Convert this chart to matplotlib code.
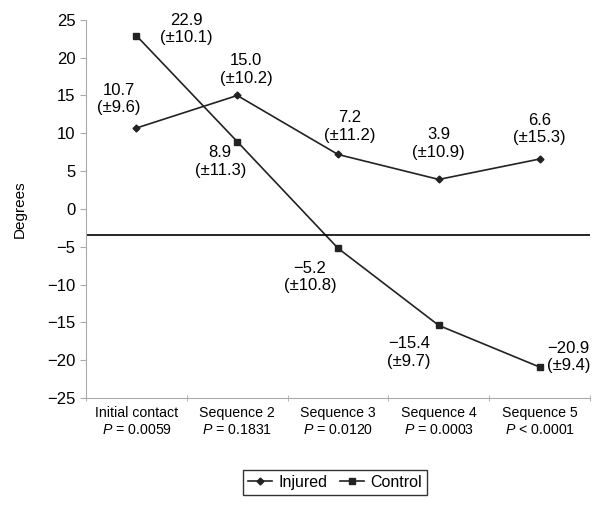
import matplotlib
matplotlib.use("Agg")
import matplotlib.pyplot as plt
import numpy as np

categories = ["Initial contact", "Sequence 2", "Sequence 3", "Sequence 4", "Sequence 5"]
p_values = ["$P$ = 0.0059", "$P$ = 0.1831", "$P$ = 0.0120", "$P$ = 0.0003", "$P$ < 0.0001"]
injured = [10.7, 15.0, 7.2, 3.9, 6.6]
injured_sd = [9.6, 10.2, 11.2, 10.9, 15.3]
control = [22.9, 8.9, -5.2, -15.4, -20.9]
control_sd = [10.1, 11.3, 10.8, 9.7, 9.4]
ref_line = -3.5
yticks = list(range(-25, 30, 5))

plt.rcParams['font.family'] = ['Liberation Sans', 'DejaVu Sans']
plt.rcParams['mathtext.fontset'] = 'custom'
plt.rcParams['mathtext.it'] = 'Liberation Sans:italic'
plt.rcParams['mathtext.rm'] = 'Liberation Sans'

fig = plt.figure(figsize=(6.02, 5.09), dpi=100)
ax = fig.add_axes([0.143, 0.218, 0.837, 0.743])

x = np.arange(len(categories))
ax.plot(x, injured, color='#222222', lw=1.2, marker='D', ms=3.5, label='Injured')
ax.plot(x, control, color='#222222', lw=1.2, marker='s', ms=4.5, label='Control')
ax.axhline(ref_line, color='black', lw=1.2)

ax.set_xlim(-0.5, len(categories) - 0.5)
ax.set_ylim(-25, 25)
ax.set_yticks(yticks)
ax.set_yticklabels([f"{v}".replace('-', '\u2212') for v in yticks], fontsize=12)
ax.set_xticks(x)
ax.set_xticklabels([f"{c}\n{p}" for c, p in zip(categories, p_values)], fontsize=10.2)
ax.set_xticks(np.arange(len(categories) + 1) - 0.5, minor=True)
ax.tick_params(axis='x', which='major', length=0, pad=6)
ax.tick_params(axis='x', which='minor', length=5, direction='inout', color='#aaaaaa')
ax.tick_params(axis='y', length=4, color='#aaaaaa')
for s in ['top', 'right']:
    ax.spines[s].set_visible(False)
for s in ['left', 'bottom']:
    ax.spines[s].set_color('#aaaaaa')
ax.set_ylabel("Degrees", fontsize=11, labelpad=15)

def fmt(v):
    return f"{v:.1f}".replace('-', '\u2212')

inj_off = [(-18, 29), (9, 26), (12, 28), (0, 36), (0, 30)]
ctl_off = [(50, 7), (-17, -20), (-28, -29), (-30, -27), (29, 10)]
for i in range(len(categories)):
    ax.annotate(f"{fmt(injured[i])}\n(±{injured_sd[i]})", (x[i], injured[i]),
                xytext=inj_off[i], textcoords='offset pixels', ha='center', va='center',
                fontsize=12, linespacing=1.2)
    ax.annotate(f"{fmt(control[i])}\n(±{control_sd[i]})", (x[i], control[i]),
                xytext=ctl_off[i], textcoords='offset pixels', ha='center', va='center',
                fontsize=12, linespacing=1.2)

leg = fig.legend(loc='center', bbox_to_anchor=(0.557, 0.052), ncol=2, frameon=True,
                 fontsize=11.5, handlelength=1.5, handletextpad=0.4, columnspacing=0.8,
                 fancybox=False, edgecolor='black', borderpad=0.3)
leg.get_frame().set_linewidth(1.0)

fig.savefig("out.png", dpi=100)
